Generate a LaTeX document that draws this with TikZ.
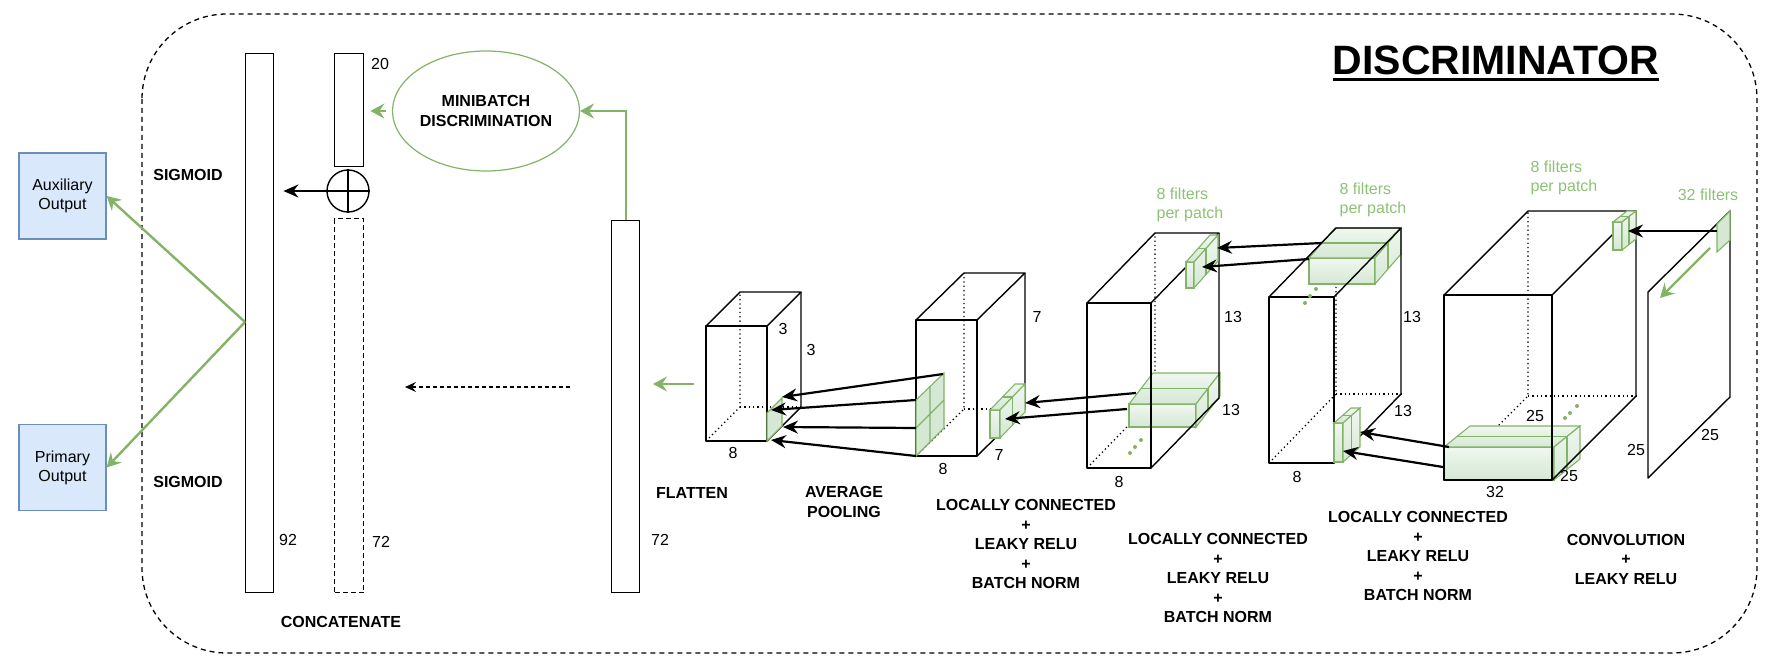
\documentclass[tikz,border=0pt]{standalone}
\usepackage{fontspec}
\setmainfont{Liberation Sans}
\usetikzlibrary{arrows.meta,calc,shapes.geometric}
\definecolor{gstroke}{HTML}{82B366}
\definecolor{gfill}{HTML}{D5E8D4}
\definecolor{gtext}{HTML}{8CC275}
\definecolor{bfill}{HTML}{DAE8FC}
\definecolor{bstroke}{HTML}{6C8EBF}
% hidden edges of a wire cube: x y w h dx dy(rise)
\newcommand\wcubehid[6]{%
  \draw[hid] (#1,#2) ++(0,#4) -- ++(#5,-#6) -- ++(0,-#4);
  \draw[hid] (#1,#2) ++(#5,-#6) ++(0,#4) -- ++(#3,0);
}
\newcommand\wcubesolid[6]{%
  \draw[cl] (#1,#2) rectangle ++(#3,#4);
  \draw[cl] (#1,#2) -- ++(#5,-#6) -- ++(#3,0) -- ++(-#5,#6);
  \draw[cl] (#1,#2) ++(#3,#4) -- ++(#5,-#6) -- ++(0,-#4);
}
% green cuboid with a half-depth layer line
\newcommand\gcube[6]{%
  \draw[gbox] (#1,#2) rectangle ++(#3,#4);
  \draw[gbox] (#1,#2) -- ++(#5,-#6) -- ++(#3,0) -- ++(-#5,#6) -- cycle;
  \draw[gbox] (#1,#2) ++(#3,0) -- ++(#5,-#6) -- ++(0,#4) -- ++(-#5,#6) -- cycle;
  \draw[gedge] (#1+0.5*#5,#2-0.5*#6) -- ++(#3,0) -- ++(0,#4);
}
\begin{document}
\begin{tikzpicture}[x=1pt,y=-1pt,
  cl/.style={black,line width=1.4pt,line join=round},
  hid/.style={black,line width=1.3pt,dash pattern=on 1.3pt off 3pt},
  gbox/.style={draw=gstroke,line width=1.1pt,top color=gfill!35!white,bottom color=gfill},
  gedge/.style={gstroke,line width=1.1pt},
  gpatch/.style={draw=gstroke,line width=1.1pt,fill=gfill},
  gline/.style={gstroke,line width=2.4pt},
  garrow/.style={gline,-{Stealth[length=14pt,width=15pt,inset=5pt]}},
  barrow/.style={black,line width=2.2pt,-{Stealth[length=15pt,width=13pt,inset=5pt]}},
  bar/.style={draw,line width=1.4pt,anchor=north west,inner sep=0pt},
  lab/.style={font=\fontsize{16}{19.5}\selectfont\bfseries,align=center},
  num/.style={font=\fontsize{16}{19}\selectfont},
  gtxt/.style={text=gtext,font=\fontsize{16}{19}\selectfont,align=left,inner sep=0pt},
  outbox/.style={draw=bstroke,fill=bfill,line width=1.3pt,minimum width=87pt,minimum height=86pt,
     align=center,font=\fontsize{16}{19}\selectfont}
]
\useasboundingbox (0,0) rectangle (1767,666);

% outer frame
\draw[black,line width=1.3pt,dash pattern=on 5pt off 4pt,rounded corners=85pt] (142,14) rectangle (1757,653);

% title
\node[font=\fontsize{41}{41}\selectfont\bfseries,anchor=base,inner sep=0pt] (title) at (1496,75) {DISCRIMINATOR};
\draw[line width=3pt] ([yshift=-5pt]title.base west) -- ([yshift=-5pt]title.base east);

% outputs
\node[outbox] (aux) at (62.5,196) {Auxiliary\\Output};
\node[outbox] (prim) at (62.5,467.5) {Primary\\Output};
\node[lab] (sig1) at (188,175) {SIGMOID};
\node[lab] (sig2) at (188,482) {SIGMOID};

% vectors
\node[bar,minimum width=28pt,minimum height=539pt] (b92) at (245,53) {};
\node[bar,minimum width=29pt,minimum height=113pt] (b20) at (334,53) {};
\node[bar,dash pattern=on 5pt off 3pt,minimum width=29pt,minimum height=374pt] (b72) at (334,218) {};
\node[bar,minimum width=28pt,minimum height=372pt] (bflat) at (611,220) {};
\node[num] (n92) at (288,540) {92};
\node[num] (n20) at (380,64) {20};
\node[num] (n72) at (381,542) {72};
\node[num] (n72f) at (660,540) {72};
\node[lab] (concat) at (341,622) {CONCATENATE};

\node[draw,circle,line width=1.4pt,minimum size=42pt,inner sep=0pt] (plus) at (348,191) {};
\draw[line width=1.4pt] (plus.north) -- (plus.south) (plus.west) -- (plus.east);

\node[draw=gstroke,line width=1.2pt,ellipse,minimum width=166pt,minimum height=120pt,inner sep=0pt,lab] (mb) at (486,111) {MINIBATCH\\DISCRIMINATION};

% connectors on the left
\coordinate (split) at (245,322);
\draw[garrow] (split) -- (aux.east);
\draw[garrow] (split) -- (prim.east);
\draw[barrow] (plus.west) -- ($(b92.east |- plus.west)+(9,0)$);
\draw[garrow,shorten <=6pt,shorten >=6pt] (mb.west) -- (b20.east |- mb.west);
\draw[garrow] (bflat.north) |- (mb.east);
\coordinate (dA) at (570,387);
\coordinate (dB) at (405,387);
\draw[black,line width=1.1pt,dash pattern=on 4pt off 3pt,-{Stealth[length=11pt,width=10pt,inset=4pt]}] (dA) -- (dB);
\coordinate (fA) at (694,384);
\coordinate (fB) at (653,384);
\draw[garrow] (fA) -- (fB);

% labels under layers
\node[lab] (lflat) at (692,493) {FLATTEN};
\node[lab] (lavg) at (844,502) {AVERAGE\\POOLING};
\node[lab] (lc2) at (1026,544) {LOCALLY CONNECTED\\+\\LEAKY RELU\\+\\BATCH NORM};
\node[lab] (lc3) at (1218,578) {LOCALLY CONNECTED\\+\\LEAKY RELU\\+\\BATCH NORM};
\node[lab] (lc4) at (1418,556) {LOCALLY CONNECTED\\+\\LEAKY RELU\\+\\BATCH NORM};
\node[lab] (lconv) at (1626,559) {CONVOLUTION\\+\\LEAKY RELU};

% green annotations
\node[gtxt] (t3) at (1190,205) {8 filters\\per patch};
\node[gtxt] (t4) at (1373,200) {8 filters\\per patch};
\node[gtxt] (t5) at (1564,178) {8 filters\\per patch};
\node[gtxt] (t32) at (1708,195) {32 filters};

% hidden cube edges
\wcubehid{706}{326}{61}{115}{34}{34}
\wcubehid{916}{320}{61}{136}{48}{47}
\wcubehid{1087}{303}{64}{165}{68}{70}
\wcubehid{1269}{297}{65}{166}{67}{69}
\wcubehid{1444}{295}{108}{185}{84}{84}

% green blocks inside cubes
\gcube{1129}{404}{67}{23}{24}{31}
\gcube{1309}{258}{66}{26}{26}{30}
\gcube{1444}{447}{110}{33}{26}{21}

% solid cube edges
\wcubesolid{706}{326}{61}{115}{34}{34}
\wcubesolid{916}{320}{61}{136}{48}{47}
\wcubesolid{1087}{303}{64}{165}{68}{70}
\wcubesolid{1269}{297}{65}{166}{67}{69}
\wcubesolid{1444}{295}{108}{185}{84}{84}

% input plane
\draw[cl] (1648,292) -- (1730,211) -- (1730,397) -- (1648,478) -- cycle;

% small green patches
\draw[gpatch] (767,441) -- (767,413) -- (782,398) -- (782,426) -- cycle;
\draw[gpatch] (916,400) -- (944,373) -- (944,428) -- (916,456) -- cycle;
\draw[gedge] (930,386) -- (930,442) (916,428) -- (944,400);
\gcube{990}{410}{10}{28}{25}{26}
\gcube{1186}{262}{8}{26}{24}{27}
\gcube{1334}{423}{9}{39}{17}{15}
\gcube{1613}{222}{9}{28}{14}{11}
\draw[gpatch] (1717,224) -- (1730,211) -- (1730,240) -- (1717,252) -- cycle;

% dots
\foreach \p in {(1130,453),(1135,447),(1141,440),(1305,303),(1310,296),(1316,289),(1565,418),(1570,413),(1577,406)}
  \fill[gstroke] \p circle (2pt);

% dimension labels
\node[num] (c1a) at (783,329) {3};
\node[num] (c1b) at (811,350) {3};
\node[num] (c1c) at (733,453) {8};
\node[num] (c2a) at (1037,317) {7};
\node[num] (c2b) at (999,455) {7};
\node[num] (c2c) at (943,469) {8};
\node[num] (c3a) at (1233,317) {13};
\node[num] (c3b) at (1231,410) {13};
\node[num] (c3c) at (1119,482) {8};
\node[num] (c4a) at (1412,317) {13};
\node[num] (c4b) at (1403,411) {13};
\node[num] (c4c) at (1297,477) {8};
\node[num] (c5a) at (1535,416) {25};
\node[num] (c5b) at (1569,476) {25};
\node[num] (c5c) at (1495,492) {32};
\node[num] (pa) at (1636,450) {25};
\node[num] (pb) at (1710,435) {25};

% arrows between layers
\coordinate (p1s) at (1717,231); \coordinate (p1e) at (1628,231);
\draw[barrow] (p1s) -- (p1e);
\coordinate (pg1) at (1710,248); \coordinate (pg2) at (1660,298);
\draw[garrow] (pg1) -- (pg2);
\coordinate (a5s) at (1449,447); \coordinate (a5e) at (1360,432);
\coordinate (b5s) at (1443,467); \coordinate (b5e) at (1343,451);
\draw[barrow] (a5s) -- (a5e);
\draw[barrow] (b5s) -- (b5e);
\coordinate (a4s) at (1322,243); \coordinate (a4e) at (1217,248);
\coordinate (b4s) at (1309,259); \coordinate (b4e) at (1202,267);
\draw[barrow] (a4s) -- (a4e);
\draw[barrow] (b4s) -- (b4e);
\coordinate (a3s) at (1136,393); \coordinate (a3e) at (1025,403);
\coordinate (b3s) at (1127,409); \coordinate (b3e) at (1005,419);
\draw[barrow] (a3s) -- (a3e);
\draw[barrow] (b3s) -- (b3e);
\coordinate (a2s) at (943,374); \coordinate (a2e) at (782,397);
\coordinate (b2s) at (916,400); \coordinate (b2e) at (771,410);
\coordinate (c2s) at (916,428); \coordinate (c2e) at (783,427);
\coordinate (d2s) at (916,456); \coordinate (d2e) at (771,440);
\draw[barrow] (a2s) -- (a2e);
\draw[barrow] (b2s) -- (b2e);
\draw[barrow] (c2s) -- (c2e);
\draw[barrow] (d2s) -- (d2e);
\end{tikzpicture}
\end{document}
